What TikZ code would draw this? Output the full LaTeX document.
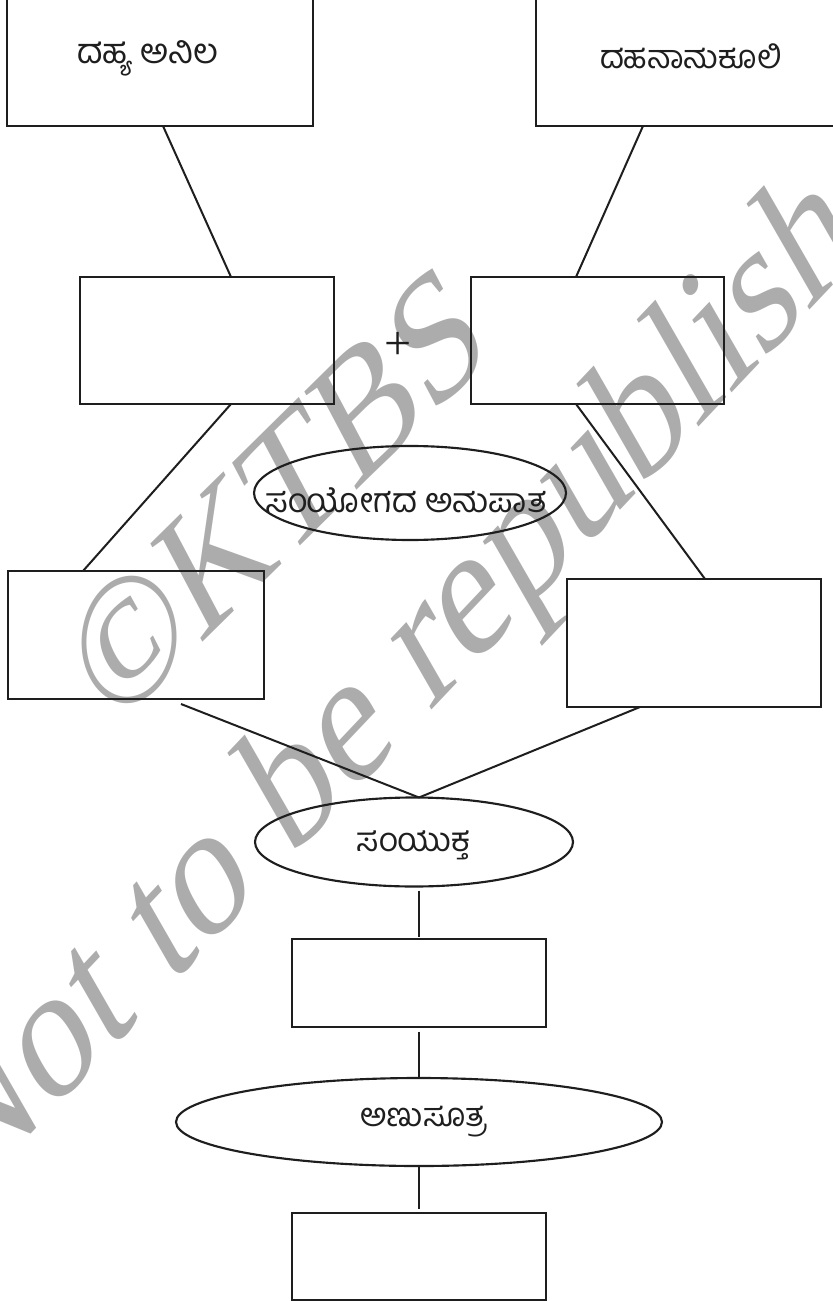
\documentclass[tikz,border=0pt]{standalone}
\usepackage{fontspec}
\setmainfont{Liberation Serif}
\newfontfamily\kn[Script=Kannada]{Hind Mysuru}
\usetikzlibrary{shapes.geometric,calc}
\definecolor{ink}{RGB}{30,30,30}
\definecolor{wm}{RGB}{172,172,172}
\begin{document}
\begin{tikzpicture}[x=0.75pt,y=-0.75pt,
  bx/.style={draw=ink,line width=1.9pt,rectangle,inner sep=0pt,outer sep=0pt},
  ell/.style={draw=ink,line width=1.6pt,ellipse,inner sep=0pt,outer sep=0pt},
  con/.style={draw=ink,line width=1.5pt},
  lbl/.style={text=ink,inner sep=0pt},
  wmk/.style={text=wm,inner sep=0pt}]
\useasboundingbox (0,0) rectangle (832,1301);
% watermark
\node[wmk,font=\fontsize{122}{122}\selectfont,rotate=44.6,xslant=0.3] (w1) at (277,494) {©KTBS};
\node[wmk,font=\fontsize{128}{128}\selectfont,rotate=46.6,xslant=0.3,anchor=base west] (w2) at (-36,1205) {Not to be republished};
% boxes
\node[bx,minimum width=229.5pt,minimum height=109.5pt] (tl) at (160,53) {};
\node[bx,minimum width=243pt,minimum height=109.5pt] (tr) at (698,53) {};
\node[lbl,font=\kn\fontsize{26}{29}\selectfont] (t1) at (148,58) {ದಹ್ಯ ಅನಿಲ};
\node[lbl,font=\kn\fontsize{24.5}{28}\selectfont] (t2) at (691,56) {ದಹನಾನುಕೂಲಿ};
\node[bx,minimum width=190.5pt,minimum height=95.25pt] (ml) at (207,340.5) {};
\node[bx,minimum width=189.75pt,minimum height=95.25pt] (mr) at (597.5,340.5) {};
\node[font=\fontsize{36}{36}\selectfont,text=ink,inner sep=0pt] (plus) at (398,346) {+};
\node[ell,minimum width=234pt,minimum height=70.5pt] (e1) at (410,493) {};
\node[lbl,font=\kn\fontsize{25.5}{29}\selectfont] (t3) at (406,500) {ಸಂಯೋಗದ ಅನುಪಾತ};
\node[bx,minimum width=192pt,minimum height=96pt] (ll) at (136,635) {};
\node[bx,minimum width=190.5pt,minimum height=96pt] (lr) at (694,643) {};
\node[ell,minimum width=238.5pt,minimum height=66.75pt] (e2) at (414,842) {};
\node[lbl,font=\kn\fontsize{25}{28}\selectfont] (t4) at (413,845) {ಸಂಯುಕ್ತ};
\node[bx,minimum width=190.5pt,minimum height=66pt] (b5) at (419,983) {};
\node[ell,minimum width=364.5pt,minimum height=66pt] (e3) at (419,1122) {};
\node[lbl,font=\kn\fontsize{24.5}{28}\selectfont] (t5) at (424,1122) {ಅಣುಸೂತ್ರ};
\node[bx,minimum width=190.5pt,minimum height=65.25pt] (b6) at (419,1256.5) {};
% connectors
\draw[con] ([xshift=2.25pt]tl.south) -- ([xshift=18pt]ml.north);
\draw[con] ([xshift=-41.25pt]tr.south) -- ([xshift=-16.125pt]mr.north);
\draw[con] ([xshift=18pt]ml.south) -- ([xshift=-39.75pt]ll.north);
\draw[con] ([xshift=-16.125pt]mr.south) -- ([xshift=8.25pt]lr.north);
\draw[con] ([xshift=33.75pt,yshift=-3.75pt]ll.south) -- ([xshift=3.75pt]e2.north);
\draw[con] ([xshift=-40.5pt]lr.south) -- ([xshift=3.75pt]e2.north);
\draw[con,shorten <=3pt,shorten >=1.5pt] (b5.north |- e2.south) -- (b5.north);
\draw[con,shorten <=3.5pt] (b5.south) -- (b5.south |- e3.north);
\draw[con,shorten >=3pt] (b6.north |- e3.south) -- (b6.north);
\end{tikzpicture}
\end{document}
